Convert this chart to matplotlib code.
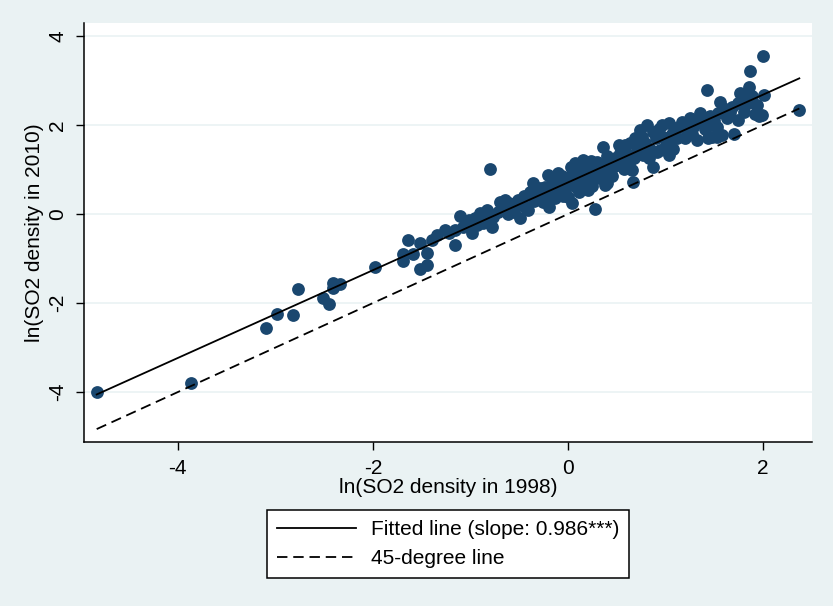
import numpy as np
import matplotlib
matplotlib.use('Agg')
import matplotlib.pyplot as plt

plt.rcParams['font.family'] = ['Liberation Sans', 'DejaVu Sans']
plt.rcParams['lines.scale_dashes'] = False
plt.rcParams['axes.unicode_minus'] = False

# ln(SO2 density) in 1998 (x) and 2010 (y)
so2_1998 = [
    -4.83, -3.86, -3.09, -2.98, -2.82, -2.77, -2.51, -2.45, -2.41, -2.41, -2.34, -1.98,
    -1.69, -1.69, -1.64, -1.59, -1.52, -1.52, -1.45, -1.45, -1.39, -1.34, -1.26,
    -1.16, -1.16, -1.11, -1.01, -0.98, -0.90, -0.87, -0.83, -0.78, -0.77, -0.80, -0.70,
    -0.65, -0.63, -0.57, -0.51, -0.49, -0.41, -0.39, -0.36, -0.32, -0.29, -0.26, -0.21,
    -0.18, -0.13, -0.10, -0.08, -0.03, 0.00,
    -1.22, -1.08, -0.95, -0.93, -0.72, -0.60, -0.55, -0.45, -0.44, -0.35, -0.30, -0.24,
    -0.22, -0.16, -0.12, -0.06, -0.05, -0.68, -0.85, -1.05,
    0.02, 0.04, 0.07, 0.10, 0.15, 0.19, 0.26, 0.28, 0.30, 0.31, 0.36, 0.38, 0.43, 0.46,
    0.53, 0.58, 0.66, 0.67, 0.69, 0.71,
    0.05, 0.08, 0.12, 0.14, 0.17, 0.22, 0.24, 0.28, 0.33, 0.35, 0.40, 0.42, 0.48, 0.50,
    0.52, 0.55, 0.60, 0.62, 0.64, 0.68, 0.20, 0.40, 0.45, 0.00, 0.03,
    0.74, 0.76, 0.77, 0.81, 0.87, 0.87, 0.91, 0.94, 0.96, 0.97, 1.03, 1.03, 1.05, 1.10,
    1.17, 1.20, 1.22, 1.25, 1.32, 1.35, 1.37, 1.42, 1.43, 1.46, 1.53, 1.53, 1.54, 1.56,
    1.59, 1.63, 1.74, 1.74, 1.76, 1.84, 1.85, 1.86, 1.89, 1.94, 1.99, 2.00, 2.01, 2.37,
    0.72, 0.79, 0.84, 0.90, 0.93, 1.00, 1.07, 1.12, 1.15, 1.28, 1.30, 1.40, 1.45, 1.50,
    1.58, 1.66, 1.70, 1.80, 1.92, 1.96, 1.68, 1.82, 1.48,
    -0.62, -0.47, -0.20, 0.11, 0.25, 0.36, 0.57, 0.83, 1.08, 1.27,
]
so2_2010 = [
    -4.00, -3.80, -2.56, -2.25, -2.27, -1.69, -1.89, -2.02, -1.55, -1.66, -1.57, -1.19,
    -0.90, -1.06, -0.58, -0.90, -0.65, -1.24, -1.15, -0.88, -0.58, -0.47, -0.36,
    -0.36, -0.70, -0.04, -0.13, -0.43, 0.02, -0.20, 0.09, -0.29, -0.07, 1.01, 0.27,
    0.31, 0.09, 0.20, 0.31, -0.09, 0.09, 0.49, 0.70, 0.36, 0.58, 0.27, 0.88,
    0.49, 0.36, 0.92, 0.70, 0.54, 0.38,
    -0.42, -0.30, -0.10, -0.25, 0.05, 0.25, 0.05, 0.40, 0.15, 0.30, 0.45, 0.60,
    0.40, 0.70, 0.55, 0.85, 0.40, 0.15, -0.05, -0.22,
    0.83, 0.25, 1.15, 0.99, 1.21, 0.88, 0.76, 0.11, 1.17, 0.99, 1.51, 0.65, 1.21, 1.06,
    1.37, 1.55, 0.99, 0.72, 1.71, 1.39,
    0.95, 0.60, 0.80, 1.05, 0.70, 1.00, 1.20, 0.90, 0.80, 1.10, 1.30, 0.95, 1.25, 1.10,
    1.55, 1.20, 1.35, 1.15, 1.60, 1.25, 0.55, 0.70, 0.85, 0.65, 1.05,
    1.89, 1.73, 1.33, 2.00, 1.84, 1.06, 1.39, 1.44, 2.00, 1.73, 2.04, 1.33, 1.66, 1.93,
    2.07, 1.71, 1.89, 2.16, 1.66, 2.27, 2.04, 2.79, 1.71, 2.00, 1.96, 1.73, 2.27, 2.52,
    2.38, 2.16, 2.49, 2.11, 2.72, 2.49, 2.85, 3.21, 2.65, 2.45, 2.22, 3.55, 2.67, 2.34,
    1.55, 1.60, 1.45, 1.70, 1.90, 1.55, 1.80, 1.70, 1.95, 1.95, 2.10, 1.90, 2.20, 2.10,
    1.78, 2.30, 1.80, 2.30, 2.25, 2.20, 2.40, 2.60, 1.72,
    0.00, 0.20, 0.15, 0.50, 0.62, 0.85, 1.00, 1.25, 1.45, 1.80,
]

fit_slope = 0.986
fit_intercept = 0.71
legend_labels = ['Fitted line (slope: 0.986***)', '45-degree line']
x_ticks = [-4, -2, 0, 2]
y_ticks = [-4, -2, 0, 2, 4]

bg = '#eaf2f3'
navy = '#1a476f'

x = np.array(so2_1998)
y = np.array(so2_2010)

fig = plt.figure(figsize=(8.33, 6.06), dpi=100, facecolor=bg)
ax = fig.add_axes([84 / 833, 164 / 606, 728 / 833, 419 / 606])
ax.set_facecolor('white')

ax.scatter(x, y, s=85, color=navy, linewidths=0, zorder=3)

x_line = np.array([x.min(), x.max()])
l1, = ax.plot(x_line, fit_intercept + fit_slope * x_line, color='black', lw=1.3, zorder=4)
l2, = ax.plot(x_line, x_line, color='black', lw=1.3, dashes=(7.5, 4.2), zorder=4)

ax.set_xlim(-4.96, 2.50)
ax.set_ylim(-5.12, 4.29)
ax.set_xticks(x_ticks)
ax.set_yticks(y_ticks)
ax.yaxis.grid(True, color=bg, lw=1.2, zorder=0)
ax.set_axisbelow(True)

for side in ['top', 'right']:
    ax.spines[side].set_visible(False)
for side in ['left', 'bottom']:
    ax.spines[side].set_linewidth(1.1)

ax.tick_params(axis='both', length=6, width=1, labelsize=15, pad=6)
ax.tick_params(axis='y', labelrotation=90)
for tl in ax.get_yticklabels():
    tl.set_va('center')

ax.set_xlabel('ln(SO2 density in 1998)', fontsize=15, labelpad=0)
ax.set_ylabel('ln(SO2 density in 2010)', fontsize=15, labelpad=3)

leg = fig.legend([l1, l2], legend_labels, loc='upper center',
                 bbox_to_anchor=(448 / 833, 1 - 510 / 606), fontsize=15,
                 frameon=True, fancybox=False, edgecolor='black', framealpha=1,
                 handlelength=3.8, handletextpad=0.7, borderpad=0.5,
                 labelspacing=0.45, borderaxespad=0)
leg.get_frame().set_linewidth(1.1)

fig.savefig('out.png', dpi=100, facecolor=bg)
